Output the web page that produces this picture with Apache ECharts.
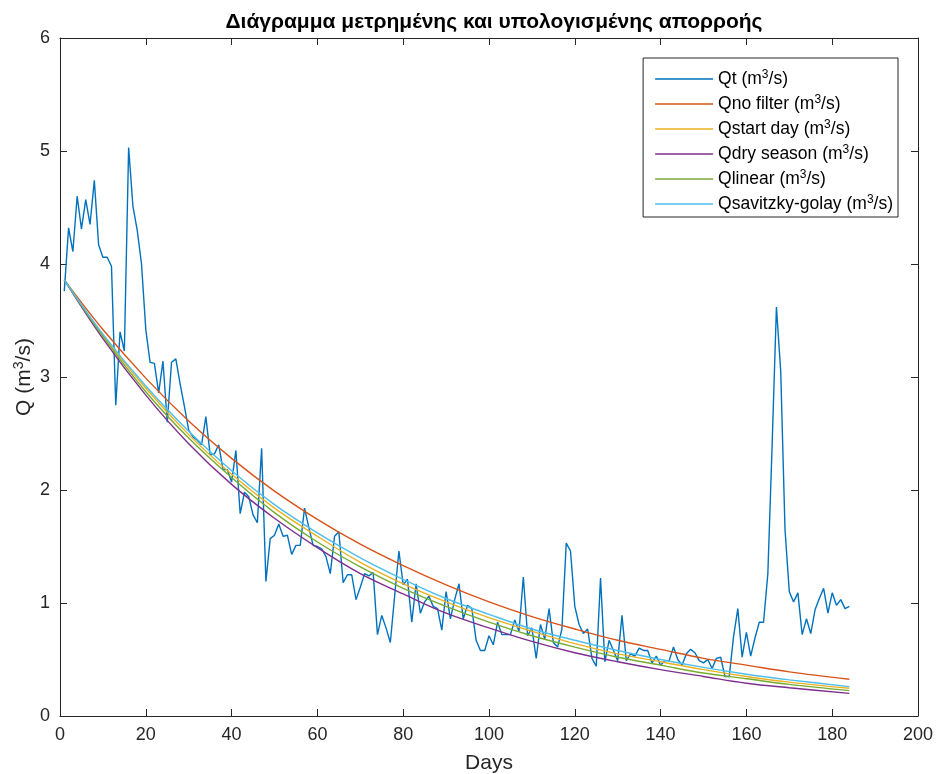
<!DOCTYPE html>
<html>
<head>
<meta charset="utf-8">
<script src="https://cdn.jsdelivr.net/npm/echarts@6/dist/echarts.min.js"></script>
<style>
html,body{margin:0;padding:0;background:#fff;}
#chart{width:938px;height:774px;}
</style>
</head>
<body>
<div id="chart"></div>
<script>
// Measured discharge Qt, days 1..184
const qtValues = [
3.76,4.32,4.11,4.60,4.31,4.57,4.35,4.74,4.17,4.06,
4.06,3.98,2.75,3.40,3.23,5.03,4.51,4.30,4.00,3.42,
3.13,3.12,2.86,3.14,2.60,3.13,3.16,2.94,2.74,2.53,
2.47,2.44,2.40,2.65,2.31,2.32,2.40,2.18,2.18,2.07,
2.35,1.79,1.98,1.94,1.78,1.71,2.37,1.19,1.57,1.60,
1.70,1.59,1.60,1.43,1.51,1.51,1.84,1.67,1.51,1.50,
1.48,1.41,1.26,1.59,1.63,1.18,1.25,1.25,1.03,1.14,
1.26,1.24,1.27,0.72,0.89,0.78,0.65,1.06,1.46,1.16,
1.21,0.83,1.17,0.91,1.01,1.06,0.97,0.95,0.76,1.10,
0.86,1.03,1.17,0.86,0.98,0.95,0.67,0.58,0.58,0.71,
0.63,0.83,0.72,0.72,0.72,0.85,0.75,1.23,0.71,0.78,
0.51,0.81,0.68,0.95,0.65,0.61,0.77,1.53,1.46,0.97,
0.81,0.73,0.77,0.51,0.44,1.22,0.48,0.67,0.58,0.49,
0.89,0.49,0.55,0.53,0.60,0.58,0.58,0.47,0.53,0.45,
0.49,0.49,0.61,0.50,0.45,0.55,0.59,0.56,0.49,0.47,
0.50,0.42,0.51,0.52,0.35,0.35,0.70,0.95,0.52,0.74,
0.53,0.69,0.83,0.83,1.26,2.40,3.62,3.05,1.65,1.10,
1.01,1.09,0.72,0.86,0.73,0.94,1.04,1.13,0.91,1.09,
0.98,1.03,0.95,0.97
];

// Days at which the smooth fitted curves were read
const curveDays = [1,10,20,30,40,50,60,70,80,90,100,110,120,130,140,150,160,170,184];
const qNoFilter   = [3.86,3.42,2.99,2.61,2.28,1.99,1.74,1.52,1.33,1.16,1.01,0.88,0.77,0.67,0.59,0.51,0.45,0.39,0.325];
const qStartDay   = [3.86,3.37,2.90,2.49,2.14,1.84,1.59,1.36,1.17,1.01,0.87,0.75,0.64,0.55,0.48,0.41,0.35,0.30,0.245];
const qDrySeason  = [3.86,3.34,2.84,2.41,2.05,1.75,1.49,1.26,1.08,0.91,0.78,0.66,0.56,0.48,0.41,0.35,0.29,0.25,0.20];
const qLinear     = [3.86,3.36,2.87,2.46,2.11,1.80,1.54,1.32,1.13,0.97,0.83,0.71,0.61,0.52,0.45,0.38,0.33,0.28,0.225];
const qSavitzky   = [3.86,3.38,2.92,2.52,2.17,1.87,1.62,1.40,1.21,1.04,0.90,0.77,0.67,0.58,0.50,0.43,0.37,0.32,0.26];

const xTicksInterval = 20;
const yTicksInterval = 1;

const names = ['Qt','Qno filter','Qstart day','Qdry season','Qlinear','Qsavitzky-golay'];
const colors = ['#0072BD','#D95319','#EDB120','#7E2F8E','#77AC30','#4DBEEE'];

const qtData = qtValues.map((v,i)=>[i+1, v]);
const pair = arr => curveDays.map((d,i)=>[d, arr[i]]);
const curves = [qNoFilter, qStartDay, qDrySeason, qLinear, qSavitzky];

const FONT = '"Liberation Sans", Arial, Helvetica, sans-serif';
const TXT = '#262626';

const series = [{
  name: names[0], type:'line', data: qtData, showSymbol:false, symbol:'none',
  lineStyle:{color:colors[0], width:1.4}, itemStyle:{color:colors[0]}, z:2, animation:false
}];
curves.forEach((c,i)=>{
  series.push({
    name: names[i+1], type:'line', data: pair(c), showSymbol:false, symbol:'none', smooth:0.35,
    lineStyle:{color:colors[i+1], width:1.4}, itemStyle:{color:colors[i+1]}, z:3, animation:false
  });
});

const axisCommon = {
  axisLine:{show:true, onZero:false, lineStyle:{color:TXT, width:1}},
  axisTick:{show:true, inside:true, length:7, lineStyle:{color:TXT}},
  splitLine:{show:false}
};

const chart = echarts.init(document.getElementById('chart'), null, {renderer:'canvas'});
chart.setOption({
  backgroundColor:'#fff',
  animation:false,
  textStyle:{fontFamily:FONT},
  title:{
    text:'Διάγραμμα μετρημένης και υπολογισμένης απορροής',
    left:489, top:7, textAlign:'center',
    textStyle:{fontFamily:FONT, fontSize:21, fontWeight:'bold', color:'#000'}
  },
  legend:{
    orient:'vertical', right:40, top:58,
    data:names.map(n=>({name:n, icon:'rect'})),
    itemWidth:58, itemHeight:1.6, itemGap:5,
    backgroundColor:'#fff',
    borderColor:TXT, borderWidth:1, padding:[11,5,3,12],
    formatter: n => n + ' (m{sup|3}/s)',
    textStyle:{fontFamily:FONT, fontSize:17.5, color:'#000', lineHeight:20,
      rich:{sup:{fontSize:12, verticalAlign:'top', lineHeight:20, padding:[0,0,8,0], fontFamily:FONT, color:'#000'}}}
  },
  grid:{left:60, right:20, top:38, bottom:58, containLabel:false, outerBoundsMode:'none'},
  xAxis:[
    Object.assign({type:'value', min:0, max:200, interval:xTicksInterval, position:'bottom',
      name:'Days', nameLocation:'middle', nameGap:37, nameMoveOverlap:false,
      nameTextStyle:{fontFamily:FONT, fontSize:21, color:TXT},
      axisLabel:{fontFamily:FONT, fontSize:18, color:TXT, margin:10}}, axisCommon),
    Object.assign({type:'value', min:0, max:200, interval:xTicksInterval, position:'top',
      axisLabel:{show:false}}, axisCommon)
  ],
  yAxis:[
    Object.assign({type:'value', min:0, max:6, interval:yTicksInterval, position:'left',
      name:'Q (m{sup|3}/s)', nameLocation:'middle', nameGap:24, nameRotate:90, nameMoveOverlap:false,
      nameTextStyle:{fontFamily:FONT, fontSize:21, color:TXT, lineHeight:24,
        rich:{sup:{fontSize:14, verticalAlign:'top', lineHeight:24, padding:[0,0,9,0], fontFamily:FONT, color:TXT}}},
      axisLabel:{fontFamily:FONT, fontSize:18, color:TXT, margin:10}}, axisCommon),
    Object.assign({type:'value', min:0, max:6, interval:yTicksInterval, position:'right',
      axisLabel:{show:false}}, axisCommon)
  ],
  series: series
});
</script>
</body>
</html>
